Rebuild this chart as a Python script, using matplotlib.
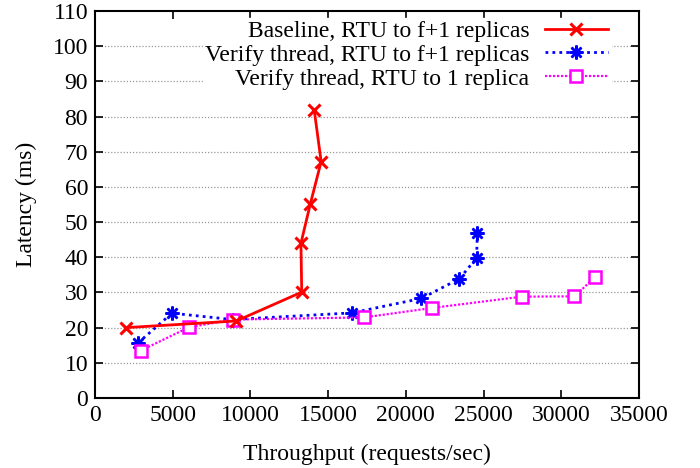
import matplotlib.pyplot as plt
import numpy as np

# data
baseline_x = [2000, 9100, 13300, 13250, 13850, 14550, 14100]
baseline_y = [20.0, 21.9, 30.1, 44.0, 55.1, 67.2, 82.0]

verify_f1_x = [2750, 4950, 8850, 16550, 21000, 23450, 24550, 24600]
verify_f1_y = [15.6, 24.1, 22.3, 24.2, 28.3, 33.9, 39.8, 47.0]

verify_1_x = [2950, 6050, 8850, 17300, 21700, 27450, 30850, 32200]
verify_1_y = [13.5, 20.1, 22.3, 22.9, 25.6, 28.8, 28.9, 34.5]

labels = ["Baseline, RTU to f+1 replicas",
          "Verify thread, RTU to f+1 replicas",
          "Verify thread, RTU to 1 replica"]


def main():
    plt.rcParams['font.family'] = ['Liberation Serif', 'DejaVu Serif']
    plt.rcParams['font.size'] = 17

    fig = plt.figure(figsize=(7, 4.68), dpi=100)
    ax = fig.add_axes([95 / 700, 1 - 398 / 468, (639 - 95) / 700, (398 - 11) / 468])

    ax.plot(baseline_x, baseline_y, color='#ff0000', lw=2.0, ls='-',
            marker='x', ms=9, mew=2.2, label=labels[0], zorder=4)
    ax.plot(verify_f1_x, verify_f1_y, color='#0000ff', lw=2.0, ls=(0, (1, 1.5)),
            marker=(8, 2, 0), ms=10, mew=1.8, label=labels[1], zorder=3)
    ax.plot(verify_1_x, verify_1_y, color='#ff00ff', lw=1.6, ls=(0, (1, 0.8)),
            marker='s', ms=8, mew=1.8, mfc='white', label=labels[2], zorder=3)

    ax.set_xlim(0, 35000)
    ax.set_ylim(0, 110)
    ax.set_xticks(np.arange(0, 35001, 5000))
    ax.set_yticks(np.arange(0, 111, 10))

    for y in range(10, 110, 10):
        ax.axhline(y, color='#999999', lw=0.9, ls=(0, (1, 1.5)), zorder=1)

    ax.tick_params(direction='in', top=True, right=True, length=6, width=1.2, pad=5)
    for s in ax.spines.values():
        s.set_linewidth(1.5)

    ax.set_xlabel("Throughput (requests/sec)", labelpad=13)
    ax.set_ylabel("Latency (ms)", labelpad=11)

    leg = ax.legend(loc='upper right', bbox_to_anchor=(0.948, 0.982), markerfirst=False,
                    frameon=True, framealpha=1, edgecolor='white', fancybox=False,
                    handlelength=2.7, handletextpad=0.65, labelspacing=0.1,
                    borderpad=0.1, borderaxespad=0.0)
    leg.set_zorder(5)

    plt.savefig('out.png', dpi=100)


if __name__ == '__main__':
    main()
